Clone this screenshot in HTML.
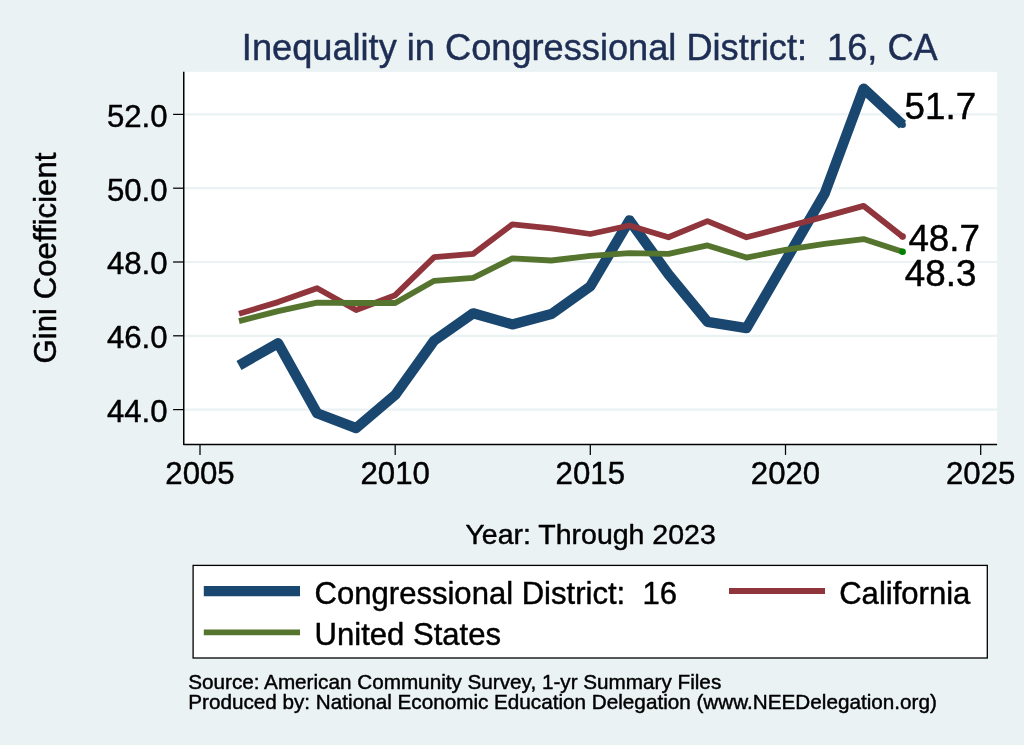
<!DOCTYPE html>
<html lang="en">
<head>
<meta charset="utf-8">
<title>Inequality in Congressional District: 16, CA</title>
<style>
html,body{margin:0;padding:0;background:#EAF2F3;}
body{width:1024px;height:745px;overflow:hidden;}
svg{display:block;will-change:transform;}
text{font-family:"Liberation Sans",sans-serif;fill:#000;stroke:#000;stroke-width:0.45px;stroke-linejoin:round;}
.ax{font-size:31.2px;}
.ttl{font-size:36.2px;fill:#1E2D53;stroke:#1E2D53;}
.xt{font-size:28.5px;}
.lg{font-size:31.05px;}
.ml{font-size:36.8px;}
.nt{font-size:20.7px;}
</style>
</head>
<body>
<svg width="1024" height="745" viewBox="0 0 1024 745">
<rect x="0" y="0" width="1024" height="745" fill="#EAF2F3"/>
<rect x="184.2" y="71.8" width="812.9" height="372.6" fill="#fff"/>

<g stroke="#EAF2F3" stroke-width="2.2">
<line x1="184.2" x2="997.1" y1="409.6" y2="409.6"/>
<line x1="184.2" x2="997.1" y1="335.8" y2="335.8"/>
<line x1="184.2" x2="997.1" y1="262.0" y2="262.0"/>
<line x1="184.2" x2="997.1" y1="188.2" y2="188.2"/>
<line x1="184.2" x2="997.1" y1="114.4" y2="114.4"/>
</g>
<polyline points="239.0,365.4 278.1,343.2 317.1,413.3 356.1,428.1 395.2,394.9 434.2,340.6 473.2,313.3 512.3,324.4 551.3,314.1 590.3,286.4 629.4,220.3 668.4,274.2 707.5,321.8 746.5,328.1 785.5,260.9 824.6,193.7 863.6,88.6 902.6,124.7" fill="none" stroke="#1A476F" stroke-width="10.3" stroke-linejoin="round" stroke-linecap="butt"/>
<polyline points="239.0,313.7 278.1,302.1 317.1,288.2 356.1,310.0 395.2,295.2 434.2,257.2 473.2,253.9 512.3,224.4 551.3,228.4 590.3,234.0 629.4,225.5 668.4,237.3 707.5,221.1 746.5,237.3 785.5,227.0 824.6,216.6 863.6,205.9 902.6,236.6" fill="none" stroke="#90353B" stroke-width="5.8" stroke-linejoin="round" stroke-linecap="butt"/>
<polyline points="239.0,321.1 278.1,311.1 317.1,302.6 356.1,303.0 395.2,303.0 434.2,280.8 473.2,277.9 512.3,258.3 551.3,260.5 590.3,255.8 629.4,253.2 668.4,253.9 707.5,245.4 746.5,257.6 785.5,249.8 824.6,243.9 863.6,239.1 902.6,251.7" fill="none" stroke="#55752F" stroke-width="5.8" stroke-linejoin="round" stroke-linecap="butt"/>
<circle cx="902.6" cy="124.7" r="3.3" fill="#1A476F"/>
<circle cx="902.6" cy="236.6" r="3.3" fill="#90353B"/>
<circle cx="902.6" cy="251.7" r="3.3" fill="#008000"/>
<g stroke="#000" stroke-width="1.5" fill="none">
<polyline points="183.75,71.8 183.75,444.4 997.1,444.4" stroke-linejoin="round"/>
</g>
<g stroke="#000" stroke-width="1.25">
<line x1="173.1" x2="184" y1="409.6" y2="409.6"/>
<line x1="173.1" x2="184" y1="335.8" y2="335.8"/>
<line x1="173.1" x2="184" y1="262.0" y2="262.0"/>
<line x1="173.1" x2="184" y1="188.2" y2="188.2"/>
<line x1="173.1" x2="184" y1="114.4" y2="114.4"/>
<line x1="200.0" x2="200.0" y1="444.4" y2="454.9"/>
<line x1="395.2" x2="395.2" y1="444.4" y2="454.9"/>
<line x1="590.3" x2="590.3" y1="444.4" y2="454.9"/>
<line x1="785.5" x2="785.5" y1="444.4" y2="454.9"/>
<line x1="980.7" x2="980.7" y1="444.4" y2="454.9"/>
</g>
<text class="ax" transform="translate(167.6 422.0) scale(1 0.987)" text-anchor="end">44.0</text>
<text class="ax" transform="translate(167.6 348.2) scale(1 0.987)" text-anchor="end">46.0</text>
<text class="ax" transform="translate(167.6 274.4) scale(1 0.987)" text-anchor="end">48.0</text>
<text class="ax" transform="translate(167.6 200.6) scale(1 0.987)" text-anchor="end">50.0</text>
<text class="ax" transform="translate(167.6 126.8) scale(1 0.987)" text-anchor="end">52.0</text>
<text class="ax" transform="translate(200.0 483.7) scale(1 0.987)" text-anchor="middle">2005</text>
<text class="ax" transform="translate(395.2 483.7) scale(1 0.987)" text-anchor="middle">2010</text>
<text class="ax" transform="translate(590.3 483.7) scale(1 0.987)" text-anchor="middle">2015</text>
<text class="ax" transform="translate(785.5 483.7) scale(1 0.987)" text-anchor="middle">2020</text>
<text class="ax" transform="translate(980.7 483.7) scale(1 0.987)" text-anchor="middle">2025</text>
<text class="ttl" x="589.8" y="59.6" text-anchor="middle">Inequality in Congressional District:&#160; 16, CA</text>
<text class="ax" transform="translate(56.2 258) rotate(-90)" text-anchor="middle">Gini Coefficient</text>
<text class="xt" x="590.6" y="543.7" text-anchor="middle">Year: Through 2023</text>
<text class="ml" transform="translate(904.6 119.1) scale(1 0.985)">51.7</text>
<text class="ml" transform="translate(908.4 250.8) scale(1 0.985)">48.7</text>
<text class="ml" transform="translate(904.8 286.2) scale(1 0.985)">48.3</text>
<rect x="193.1" y="565.4" width="794.2" height="92.6" fill="#fff" stroke="#000" stroke-width="1.3"/>
<line x1="203.8" x2="300" y1="591.1" y2="591.1" stroke="#1A476F" stroke-width="10.3"/>
<line x1="729" x2="825" y1="591" y2="591" stroke="#90353B" stroke-width="5.8"/>
<line x1="203.8" x2="300" y1="632.3" y2="632.3" stroke="#55752F" stroke-width="5.8"/>
<text class="lg" x="314.6" y="603.8">Congressional District:&#160; 16</text>
<text class="lg" x="839.2" y="603.8">California</text>
<text class="lg" x="314.6" y="644.9">United States</text>
<text class="nt" x="188.2" y="688.8">Source: American Community Survey, 1-yr Summary Files</text>
<text class="nt" x="188.2" y="709.2">Produced by: National Economic Education Delegation (www.NEEDelegation.org)</text>
</svg>
</body>
</html>
